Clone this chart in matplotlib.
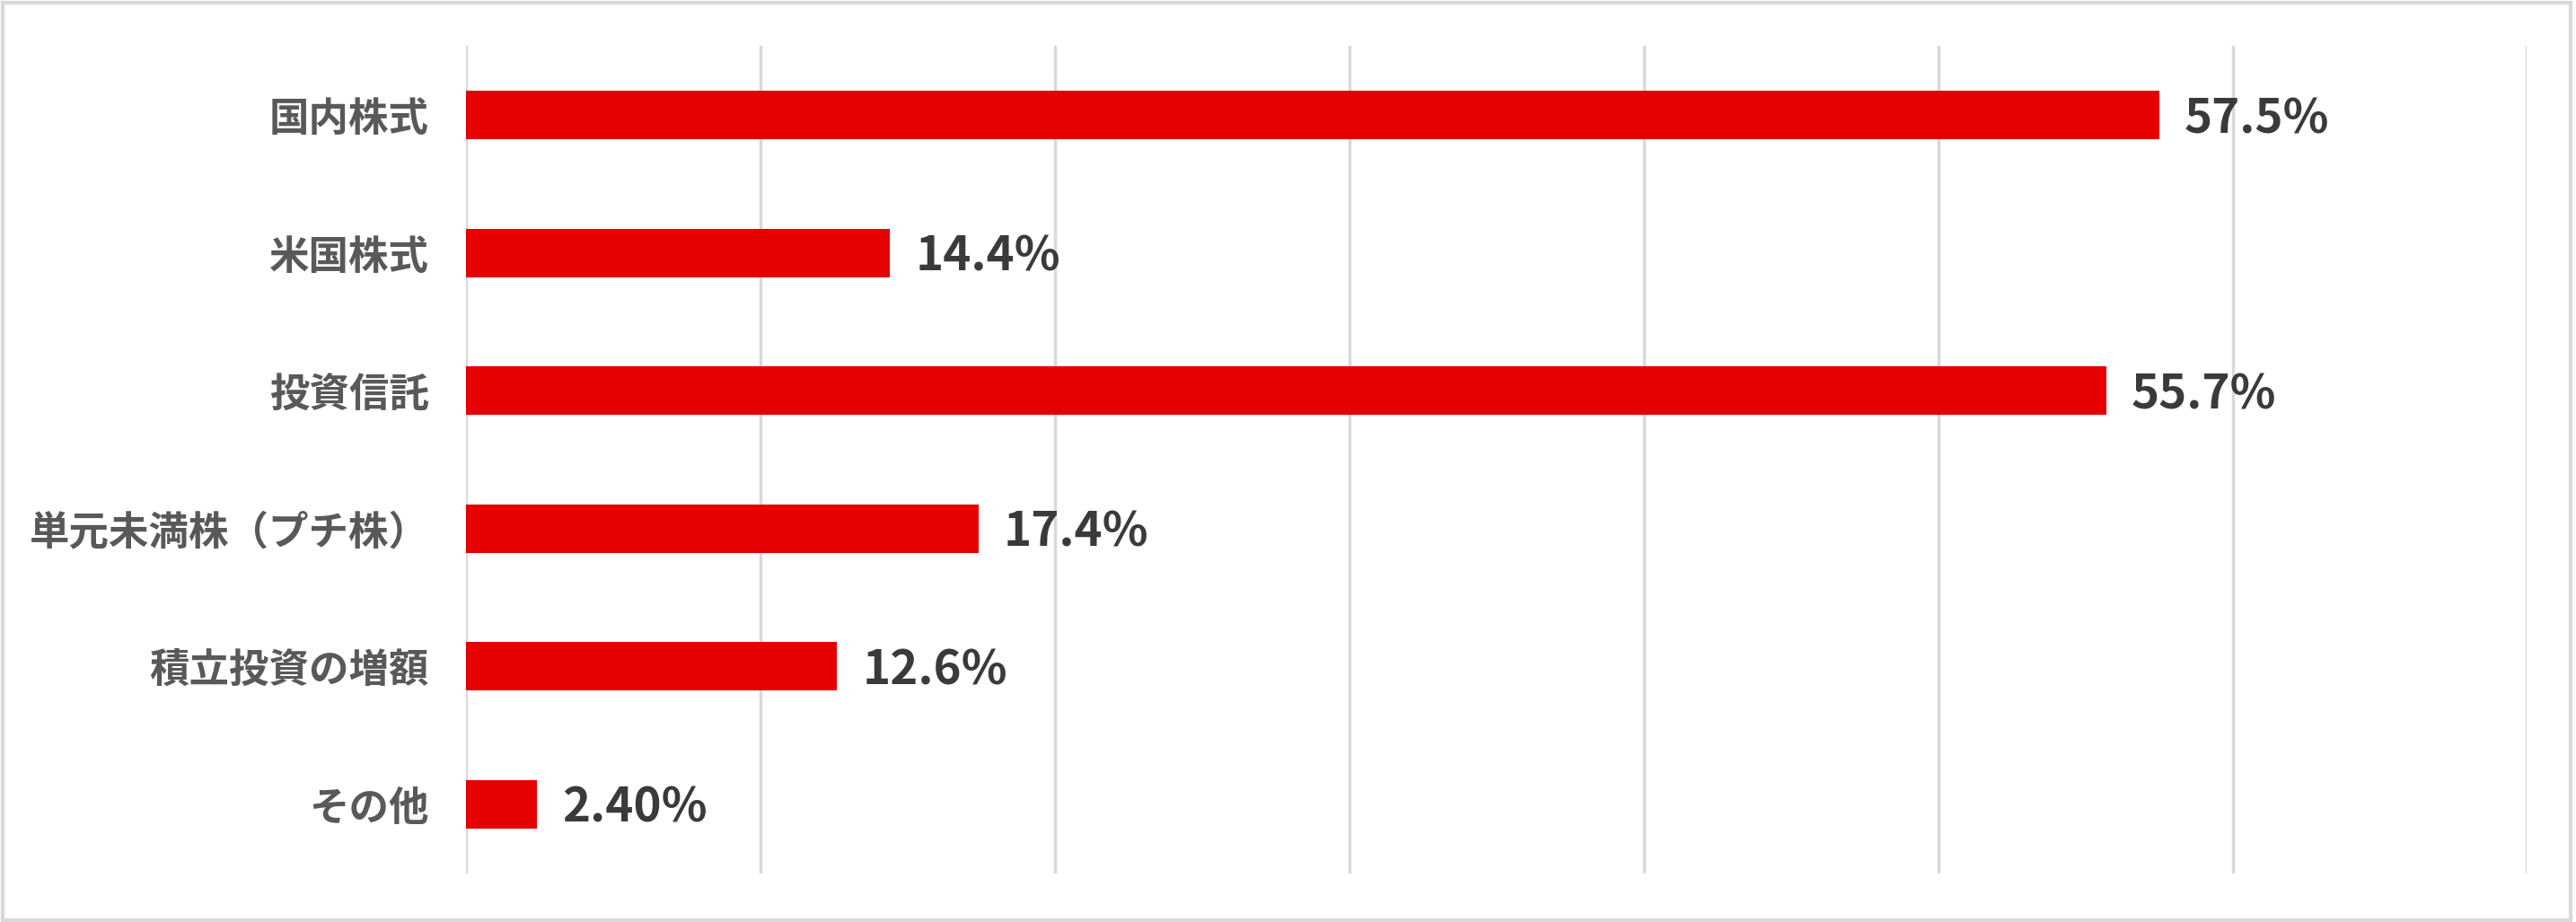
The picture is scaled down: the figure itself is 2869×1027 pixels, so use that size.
import matplotlib.pyplot as plt
from matplotlib.patches import Rectangle

plt.rcParams['font.family'] = ['Noto Sans CJK JP', 'DejaVu Sans']

categories = ['国内株式', '米国株式', '投資信託', '単元未満株（プチ株）', '積立投資の増額', 'その他']
values = [57.5, 14.4, 55.7, 17.4, 12.6, 2.40]
value_labels = ['57.5%', '14.4%', '55.7%', '17.4%', '12.6%', '2.40%']
ticks = [0, 10, 20, 30, 40, 50, 60, 70]

fig = plt.figure(figsize=(28.69, 10.27), dpi=100)
ax = fig.add_axes([0.181, 0.053, 0.8, 0.897])

ypos = list(range(len(categories)))
ax.barh(ypos, values, height=0.35, color='#E60000', zorder=3)

for y, v, lab in zip(ypos, values, value_labels):
    ax.text(v + 0.85, y + 0.03, lab, va='center', ha='left', fontsize=38,
            fontweight='bold', color='#3A3A3A')

ax.set_xlim(0, 70)
ax.set_ylim(len(categories) - 0.5, -0.5)
ax.set_xticks(ticks)
ax.set_xticklabels([])
ax.set_yticks(ypos)
ax.set_yticklabels(categories, fontsize=32, fontweight='bold', color='#595959')
ax.tick_params(length=0, pad=30)
ax.grid(axis='x', color='#D9D9D9', linewidth=2.5, zorder=0)
for s in ax.spines.values():
    s.set_visible(False)

fig.patches.append(Rectangle((0.001, 0.002), 0.997, 0.995, transform=fig.transFigure,
                             fill=False, edgecolor='#D9D9D9', linewidth=3))

fig.savefig('out.png', dpi=100)
